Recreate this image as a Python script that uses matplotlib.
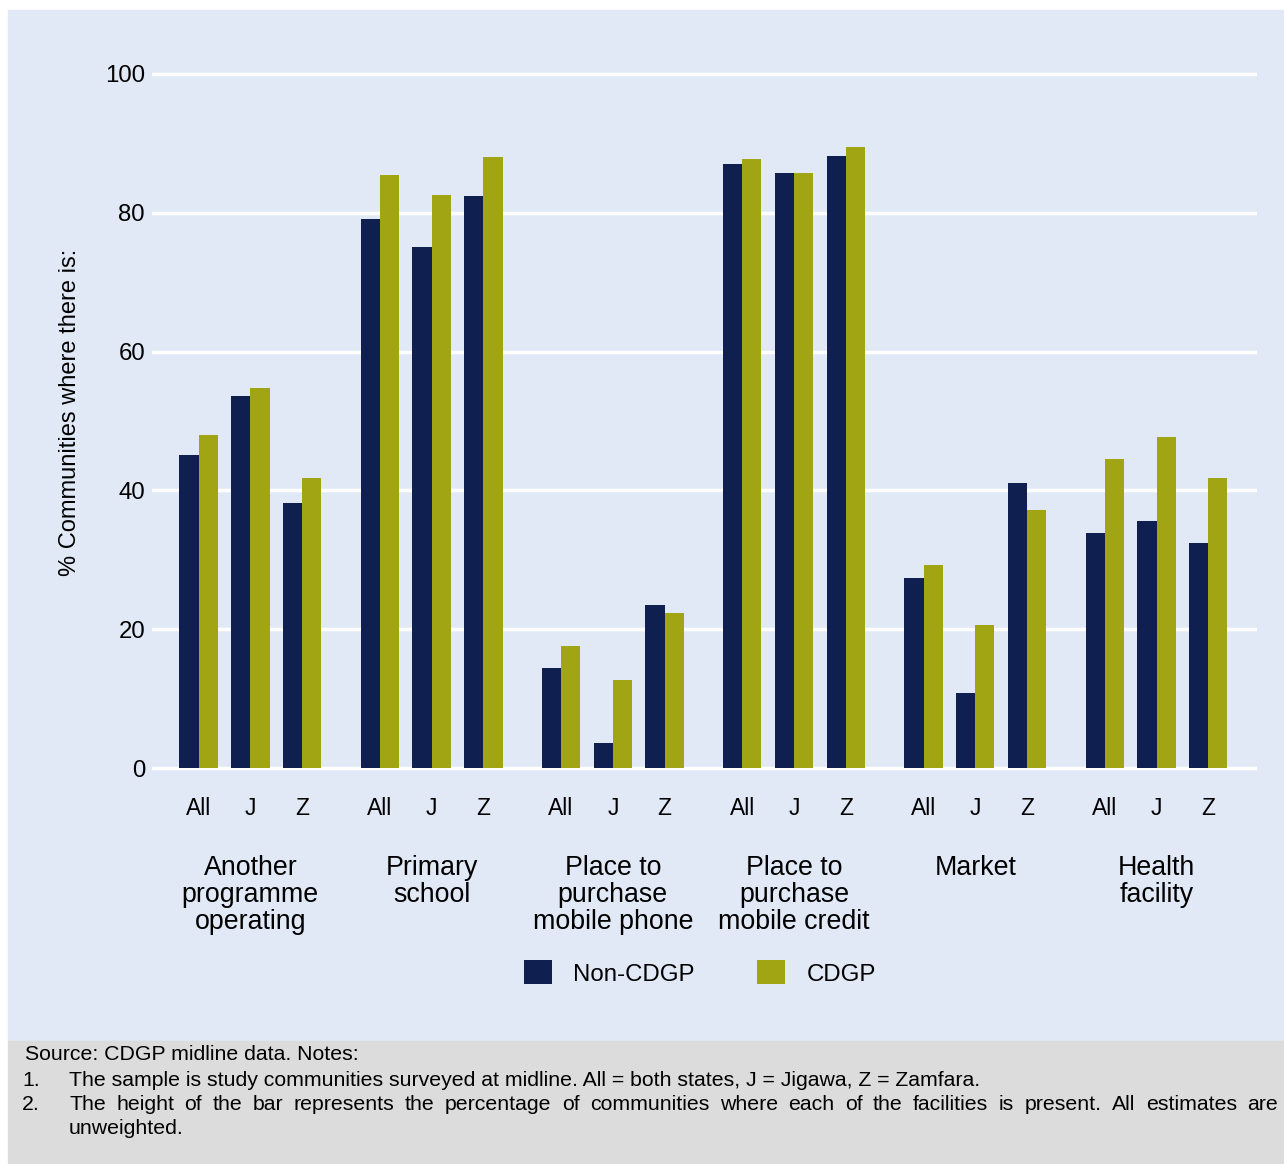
import matplotlib
matplotlib.use("Agg")
import matplotlib.pyplot as plt
from matplotlib.patches import Rectangle
import numpy as np

plt.rcParams["font.family"] = ["Liberation Sans", "DejaVu Sans"]

GROUPS = ["Another\nprogramme\noperating", "Primary\nschool", "Place to\npurchase\nmobile phone",
          "Place to\npurchase\nmobile credit", "Market", "Health\nfacility"]
SUBS = ["All", "J", "Z"]
NON_CDGP = [45.1, 53.6, 38.2, 79.1, 75.1, 82.4, 14.4, 3.6, 23.5,
            87.0, 85.7, 88.2, 27.4, 10.8, 41.1, 33.9, 35.6, 32.4]
CDGP = [48.0, 54.8, 41.8, 85.4, 82.6, 88.0, 17.6, 12.7, 22.3,
        87.8, 85.7, 89.5, 29.3, 20.6, 37.2, 44.5, 47.7, 41.8]
YTICKS = [0, 20, 40, 60, 80, 100]

NAVY = "#0E1F50"
OLIVE = "#A2A513"
BG = "#E2E9F6"

fig = plt.figure(figsize=(12.84, 11.64), dpi=100)
W, H = 1284, 1164

# backgrounds: blue plot region and grey notes box
fig.patches.append(Rectangle((8 / W, 1 - 1040 / H), 1 - 8 / W, (1040 - 10) / H,
                             transform=fig.transFigure, color=BG, zorder=-10))
fig.patches.append(Rectangle((8 / W, 0), 1 - 8 / W, (1164 - 1041) / H,
                             transform=fig.transFigure, color="#DCDCDC", zorder=-10))

ax = fig.add_axes([152 / W, 1 - 775 / H, (1257 - 152) / W, (775 - 67) / H])
ax.patch.set_alpha(0)

pos = np.array([g * 3.5 + k for g in range(len(GROUPS)) for k in range(3)])
w = 0.37
ax.bar(pos - w / 2, NON_CDGP, w, color=NAVY, zorder=3, label="Non-CDGP")
ax.bar(pos + w / 2, CDGP, w, color=OLIVE, zorder=3, label="CDGP")

ax.set_ylim(-1, 101)
ax.set_xlim(-0.9, 5 * 3.5 + 2 + 0.94)
ax.set_yticks(YTICKS)
ax.set_yticklabels([str(t) for t in YTICKS], fontsize=17.3)
ax.yaxis.grid(True, color="white", linewidth=2.5, zorder=1)
ax.tick_params(axis="y", length=0, pad=5)
ax.set_xticks(pos)
ax.set_xticklabels(SUBS * len(GROUPS), fontsize=16.5)
ax.tick_params(axis="x", length=0, pad=16)
for s in ax.spines.values():
    s.set_visible(False)

# y axis title
fig.text(70 / W, 1 - 412 / H, "% Communities where there is:", rotation=90,
         ha="center", va="center", fontsize=17)

# group labels under the sub-labels
for g, name in enumerate(GROUPS):
    xc = g * 3.5 + 1
    xf = (ax.transData.transform((xc, 0))[0]) / W
    fig.text(xf, 1 - 855 / H, name, ha="center", va="top", fontsize=19.3,
             linespacing=1.05)

# legend
handles, labels = ax.get_legend_handles_labels()
fig.legend(handles, labels, loc="center", bbox_to_anchor=(700 / W, 1 - 973 / H),
           ncol=2, frameon=False, fontsize=17.3, handlelength=1.15, handleheight=1.15,
           columnspacing=2.6, handletextpad=0.9)

# notes
fs = 15.3
fig.text(25 / W, 1 - 1055 / H, "Source: CDGP midline data. Notes:", fontsize=fs, va="center")
fig.text(22 / W, 1 - 1080 / H, "1.", fontsize=fs, va="center")
fig.text(69 / W, 1 - 1080 / H,
         "The sample is study communities surveyed at midline. All = both states, J = Jigawa, Z = Zamfara.",
         fontsize=fs, va="center")
fig.text(22 / W, 1 - 1104 / H, "2.", fontsize=fs, va="center")

# justified line
line2 = ("The height of the bar represents the percentage of communities where each of the "
         "facilities is present. All estimates are").split()
fig.canvas.draw()
r = fig.canvas.get_renderer()
objs = [fig.text(0, 1 - 1104 / H, wd, fontsize=fs, va="center") for wd in line2]
widths = [o.get_window_extent(r).width for o in objs]
x0, x1 = 69, 1278
gap = (x1 - x0 - sum(widths)) / (len(objs) - 1)
x = x0
for o, wd in zip(objs, widths):
    o.set_x(x / W)
    x += wd + gap
fig.text(69 / W, 1 - 1128 / H, "unweighted.", fontsize=fs, va="center")

fig.savefig("out.png", dpi=100)
